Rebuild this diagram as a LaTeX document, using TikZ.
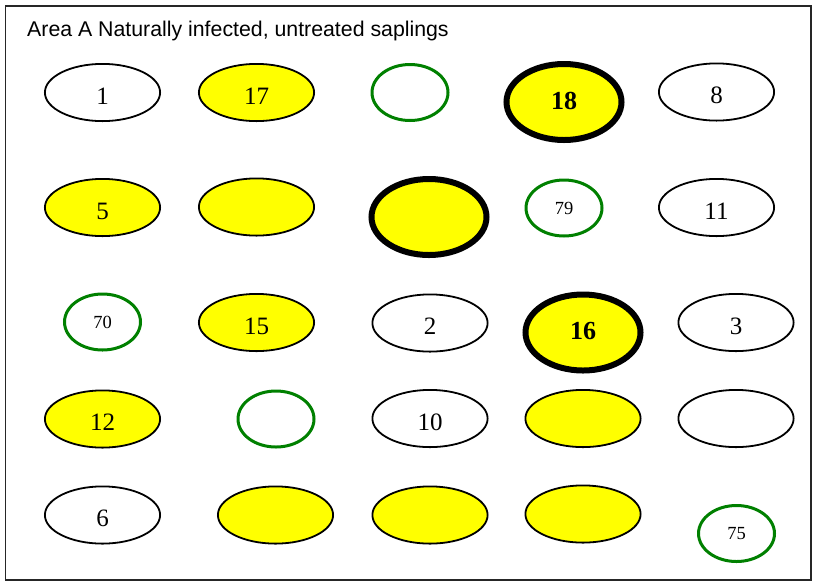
\documentclass[tikz,border=0pt]{standalone}
\usepackage{fontspec}
\setmainfont{Liberation Serif}
\newfontfamily\titlefont{Liberation Sans}
\usetikzlibrary{shapes.geometric}
\definecolor{plantyellow}{RGB}{255,255,0}
\definecolor{plantgreen}{RGB}{0,128,0}

\begin{document}
\begin{tikzpicture}[x=1pt, y=-1pt, every node/.style={font=\fontsize{25}{30}\selectfont}]
\tikzstyle{tree}=[ellipse, draw, line width=1.8pt, inner sep=0pt, minimum width=115.2pt, minimum height=57.2pt, text height=23pt, text depth=0pt]
\tikzstyle{infected}=[tree, fill=plantyellow]
\tikzstyle{severe}=[infected, line width=6pt, minimum width=115pt, minimum height=76pt, text height=17.7pt, text depth=3pt, font=\bfseries\fontsize{26}{30}\selectfont]
\tikzstyle{healthy}=[ellipse, draw=plantgreen, line width=3pt, inner sep=0pt, minimum width=76pt, minimum height=56pt, font=\fontsize{18.5}{22}\selectfont]
\useasboundingbox (0,0) rectangle (813,582);
\draw[line width=1.3pt, black!85] (5.5,6) rectangle (811,580);
\node[anchor=base west, inner sep=0pt, font=\titlefont\fontsize{21.3}{25}\selectfont] (title) at (27,36) {Area A Naturally infected, untreated saplings};
% first row
\node[tree] (t1) at (102.5,92.5) {1};
\node[infected] (t17) at (256.5,92.5) {17};
\node[healthy] (h1) at (410,92.5) {};
\node[severe] (t18) at (564,102) {18};
\node[tree] (t8) at (716.5,92) {8};
% second row
\node[infected] (t5) at (102.5,207.5) {5};
\node[infected] (y1) at (256.5,207) {};
\node[severe] (s1) at (429,217) {};
\node[healthy] (t79) at (564,208) {79};
\node[tree] (t11) at (716.5,207.5) {11};
% third row
\node[healthy] (t70) at (102.5,322) {70};
\node[infected] (t15) at (256.5,322.5) {15};
\node[tree] (t2) at (430,323) {2};
\node[severe] (t16) at (583,332.5) {16};
\node[tree] (t3) at (736,322.5) {3};
% fourth row
\node[infected] (t12) at (102.5,419) {12};
\node[healthy] (h2) at (276,419) {};
\node[tree] (t10) at (430,418.5) {10};
\node[infected] (y2) at (583,418.5) {};
\node[tree] (w1) at (736,418.5) {};
% fifth row
\node[tree] (t6) at (102.5,515) {6};
\node[infected] (y3) at (275.5,515) {};
\node[infected] (y4) at (430,515) {};
\node[infected] (y5) at (583,514) {};
\node[healthy] (t75) at (736.5,533.5) {75};
\end{tikzpicture}
\end{document}
